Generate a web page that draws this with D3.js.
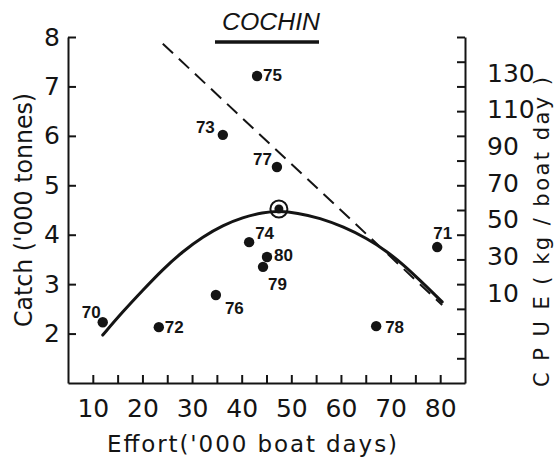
<!DOCTYPE html>
<html>
<head>
<meta charset="utf-8">
<script src="https://cdn.jsdelivr.net/npm/d3@7/dist/d3.min.js"></script>
<style>
  body { margin: 0; background: #fff; }
</style>
</head>
<body>
<script>
// values
const years = ['70', '71', '72', '73', '74', '75', '76', '77', '78', '79', '80'];
const effort = [12.0, 79.4, 23.3, 36.2, 41.5, 43.1, 34.8, 47.1, 67.1, 44.3, 45.1];
const catchValues = [2.23, 3.75, 2.13, 6.02, 3.85, 7.21, 2.78, 5.37, 2.15, 3.35, 3.55];

// fitted production curve (traced)
const curveEffort = [12.0, 16.0, 20.1, 24.1, 28.1, 32.2, 36.2, 40.2, 44.2, 47.7, 51.1, 55.8, 60.5, 65.2, 69.3, 72.5, 75.9, 78.5, 80.4];
const curveCatch = [1.97, 2.44, 2.88, 3.30, 3.66, 3.96, 4.19, 4.35, 4.45, 4.48, 4.44, 4.34, 4.16, 3.93, 3.66, 3.40, 3.08, 2.83, 2.64];

// CPUE regression line (dashed), right axis units
const cpueEffort = [24.1, 80.4];
const cpueValues = [146, 3.5];

// MSY point (circled)
const msyEffort = 47.5;
const msyCatch = 4.52;

// ticks
const xTicks = [10, 15, 20, 25, 30, 35, 40, 45, 50, 55, 60, 65, 70, 75, 80];
const catchTicks = [2, 3, 4, 5, 6, 7, 8];
const rightTicks = [1.5, 2, 2.5, 3, 3.5, 4, 4.5, 5, 5.5, 6, 6.5, 7, 7.5, 8];
const cpueTicks = [10, 30, 50, 70, 90, 110, 130];

// where each year label sits relative to its dot
const labelPlace = {
  '70': { dx: -2, dy: -4, anchor: 'end' },
  '71': { dx: -4, dy: -8, anchor: 'start' },
  '72': { dx: 6, dy: 6, anchor: 'start' },
  '73': { dx: -8, dy: -2, anchor: 'end' },
  '74': { dx: 6, dy: -3, anchor: 'start' },
  '75': { dx: 6, dy: 5, anchor: 'start' },
  '76': { dx: 9, dy: 19, anchor: 'start' },
  '77': { dx: -5, dy: -2, anchor: 'end' },
  '78': { dx: 9, dy: 7, anchor: 'start' },
  '79': { dx: 5, dy: 23, anchor: 'start' },
  '80': { dx: 7, dy: 4, anchor: 'start' }
};

const width = 557, height = 457;
const ink = '#141414';
const numFont = '"DejaVu Sans", sans-serif';

const svg = d3.select('body').append('svg')
  .attr('width', width)
  .attr('height', height);

const x = d3.scaleLinear().domain([5, 85]).range([68, 465]);
const y = d3.scaleLinear().domain([1, 8]).range([383, 37]);
const yCpue = d3.scaleLinear().domain([-39.1, 149.7]).range([383, 37]);

function styleAxis(g, size) {
  g.attr('font-family', numFont).attr('font-size', size);
  g.selectAll('path, line').attr('stroke', ink).attr('stroke-width', 2);
  g.selectAll('text').attr('fill', ink);
}

// bottom axis
svg.append('g')
  .attr('transform', `translate(0,${y(1)})`)
  .call(d3.axisBottom(x).tickValues(xTicks)
    .tickFormat(d => d % 10 === 0 ? d : '')
    .tickSize(-8).tickSizeOuter(0).tickPadding(16))
  .call(g => styleAxis(g, 25));

// left axis
svg.append('g')
  .attr('transform', `translate(${x(5)},0)`)
  .call(d3.axisLeft(y).tickValues(catchTicks)
    .tickFormat(d3.format('d'))
    .tickSize(-8).tickSizeOuter(0).tickPadding(8))
  .call(g => styleAxis(g, 25));

// right axis: tick marks on the catch grid
svg.append('g')
  .attr('transform', `translate(${x(85)},0)`)
  .call(d3.axisRight(y).tickValues(rightTicks)
    .tickFormat('').tickSize(-8).tickSizeOuter(0))
  .call(g => styleAxis(g, 24));

// right axis labels (CPUE scale)
svg.append('g')
  .attr('transform', `translate(${x(85)},0)`)
  .call(d3.axisRight(yCpue).tickValues(cpueTicks)
    .tickSize(0).tickPadding(22))
  .call(g => g.select('.domain').remove())
  .call(g => styleAxis(g, 25));

// axis titles
svg.append('text')
  .attr('x', 252).attr('y', 452)
  .attr('text-anchor', 'middle')
  .attr('font-family', numFont).attr('font-size', 23)
  .attr('textLength', 290).attr('lengthAdjust', 'spacing')
  .attr('fill', ink)
  .text("Effort('000 boat days)");

svg.append('text')
  .attr('transform', 'translate(32,210) rotate(-90)')
  .attr('text-anchor', 'middle')
  .attr('font-family', numFont).attr('font-size', 24)
  .attr('textLength', 234).attr('lengthAdjust', 'spacingAndGlyphs')
  .attr('fill', ink)
  .text("Catch ('000 tonnes)");

svg.append('text')
  .attr('transform', 'translate(549,232) rotate(-90)')
  .attr('text-anchor', 'middle')
  .attr('font-family', numFont).attr('font-size', 21)
  .attr('textLength', 310).attr('lengthAdjust', 'spacing')
  .attr('fill', ink)
  .text('C P U E ( kg / boat day )');

// title
svg.append('text')
  .attr('x', 222).attr('y', 30)
  .attr('font-family', '"Liberation Sans", sans-serif')
  .attr('font-style', 'italic').attr('font-size', 23)
  .attr('textLength', 98).attr('lengthAdjust', 'spacingAndGlyphs')
  .attr('fill', ink)
  .text('COCHIN');
svg.append('line')
  .attr('x1', 215).attr('x2', 319)
  .attr('y1', 42).attr('y2', 42)
  .attr('stroke', ink).attr('stroke-width', 3.5);

// dashed CPUE line
const cpueLine = d3.line()
  .x(d => x(d[0]))
  .y(d => yCpue(d[1]));
svg.append('path')
  .attr('d', cpueLine(d3.zip(cpueEffort, cpueValues)))
  .attr('fill', 'none')
  .attr('stroke', ink)
  .attr('stroke-width', 2)
  .attr('stroke-dasharray', '14,8');

// production curve
const prodLine = d3.line()
  .x(d => x(d[0]))
  .y(d => y(d[1]))
  .curve(d3.curveBasis);
svg.append('path')
  .attr('d', prodLine(d3.zip(curveEffort, curveCatch)))
  .attr('fill', 'none')
  .attr('stroke', ink)
  .attr('stroke-width', 3)
  .attr('stroke-linecap', 'round');

// yearly points
const pts = years.map((yr, i) => ({ yr, e: effort[i], c: catchValues[i] }));
svg.append('g').selectAll('circle')
  .data(pts)
  .join('circle')
  .attr('cx', d => x(d.e))
  .attr('cy', d => y(d.c))
  .attr('r', 5.2)
  .attr('fill', ink);

svg.append('g').selectAll('text')
  .data(pts)
  .join('text')
  .attr('x', d => x(d.e) + labelPlace[d.yr].dx)
  .attr('y', d => y(d.c) + labelPlace[d.yr].dy)
  .attr('text-anchor', d => labelPlace[d.yr].anchor)
  .attr('font-family', '"Liberation Sans", Arial, sans-serif')
  .attr('font-weight', 'bold')
  .attr('font-size', 17)
  .attr('fill', ink)
  .text(d => d.yr);

// MSY point
svg.append('circle')
  .attr('cx', x(msyEffort)).attr('cy', y(msyCatch))
  .attr('r', 4.5).attr('fill', ink);
svg.append('circle')
  .attr('cx', x(msyEffort)).attr('cy', y(msyCatch))
  .attr('r', 8.5)
  .attr('fill', 'none')
  .attr('stroke', ink)
  .attr('stroke-width', 2);
</script>
</body>
</html>
